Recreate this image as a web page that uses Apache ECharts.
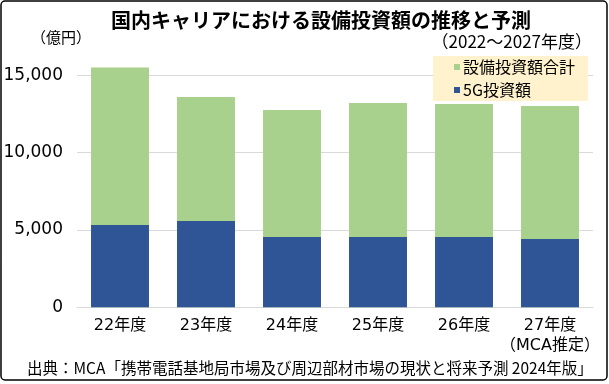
<!DOCTYPE html>
<html>
<head>
<meta charset="utf-8">
<script src="https://cdn.jsdelivr.net/npm/echarts@6/dist/echarts.min.js"></script>
<style>
html,body{margin:0;padding:0;background:#fff;}
#c{width:609px;height:384px;}
</style>
</head>
<body>
<div id="c"></div>
<script>
var categories = ['22年度', '23年度', '24年度', '25年度', '26年度', '27年度\n（MCA推定）'];
var totalInvestment = [15490, 13590, 12750, 13200, 13140, 13010];
var investment5G = [5320, 5580, 4540, 4540, 4540, 4410];
var seriesNames = ['設備投資額合計', '5G投資額'];
var yTicks = { min: 0, max: 15000, interval: 5000 };

var FONT = '"Noto Sans CJK JP", "Noto Sans", sans-serif';
var NUMFONT = '"DejaVu Sans", "Noto Sans CJK JP", sans-serif';
var chart = echarts.init(document.getElementById('c'), null, { renderer: 'canvas' });
chart.setOption({
  animation: false,
  backgroundColor: '#fff',
  textStyle: { fontFamily: FONT },
  grid: { left: 77, right: 16, top: 75.2, bottom: 76.7, containLabel: false },
  legend: {
    data: seriesNames,
    orient: 'vertical',
    left: 433, top: 56,
    padding: [3, 13, 3, 21],
    itemGap: 7,
    itemWidth: 6, itemHeight: 6,
    icon: 'rect',
    backgroundColor: '#FFF2CC',
    textStyle: { fontSize: 16, color: '#000', fontFamily: FONT, padding: [0, 0, 0, -2] }
  },
  xAxis: {
    type: 'category',
    data: categories,
    axisTick: { show: false },
    axisLine: { show: true, lineStyle: { color: '#D9D9D9', width: 1 } },
    axisLabel: { fontSize: 16, color: '#000', lineHeight: 20, margin: 9, fontFamily: NUMFONT, interval: 0 }
  },
  yAxis: {
    type: 'value',
    min: yTicks.min, max: yTicks.max, interval: yTicks.interval,
    axisLine: { show: false },
    axisTick: { show: false },
    splitLine: { lineStyle: { color: '#D9D9D9', width: 1 } },
    axisLabel: {
      fontSize: 17, color: '#000', margin: 14, fontFamily: NUMFONT,
      formatter: function (v) { return v.toLocaleString('en-US'); }
    }
  },
  series: [
    {
      name: seriesNames[0], type: 'bar', data: totalInvestment,
      barWidth: '67.4%', barGap: '-100%', clip: false,
      itemStyle: { color: '#A9D18E' }
    },
    {
      name: seriesNames[1], type: 'bar', data: investment5G,
      barWidth: '67.4%', barGap: '-100%', clip: false,
      itemStyle: { color: '#2F5597' }
    }
  ],
  graphic: [
    { type: 'rect', silent: true, z: 100,
      shape: { x: 1, y: 1, width: 606, height: 379, r: 4 },
      style: { fill: 'none', stroke: '#000', lineWidth: 1.5 } },
    { type: 'text', x: 321, y: 20, z: 100,
      style: { text: '国内キャリアにおける設備投資額の推移と予測', fontFamily: FONT, fontSize: 20, fontWeight: 'bold',
               fill: '#000', textAlign: 'center', textVerticalAlign: 'middle' } },
    { type: 'text', x: 592, y: 42, z: 100,
      style: { text: '（2022～2027年度）', fontFamily: FONT, fontSize: 17,
               fill: '#000', textAlign: 'right', textVerticalAlign: 'middle' } },
    { type: 'text', x: 61, y: 37, z: 100,
      style: { text: '（億円）', fontFamily: FONT, fontSize: 15,
               fill: '#000', textAlign: 'center', textVerticalAlign: 'middle' } },
    { type: 'text', x: 27, y: 368, z: 100,
      style: { text: '出典：MCA「携帯電話基地局市場及び周辺部材市場の現状と将来予測 2024年版」', fontFamily: FONT, fontSize: 15.5,
               fill: '#000', textAlign: 'left', textVerticalAlign: 'middle' } }
  ]
});
</script>
</body>
</html>
